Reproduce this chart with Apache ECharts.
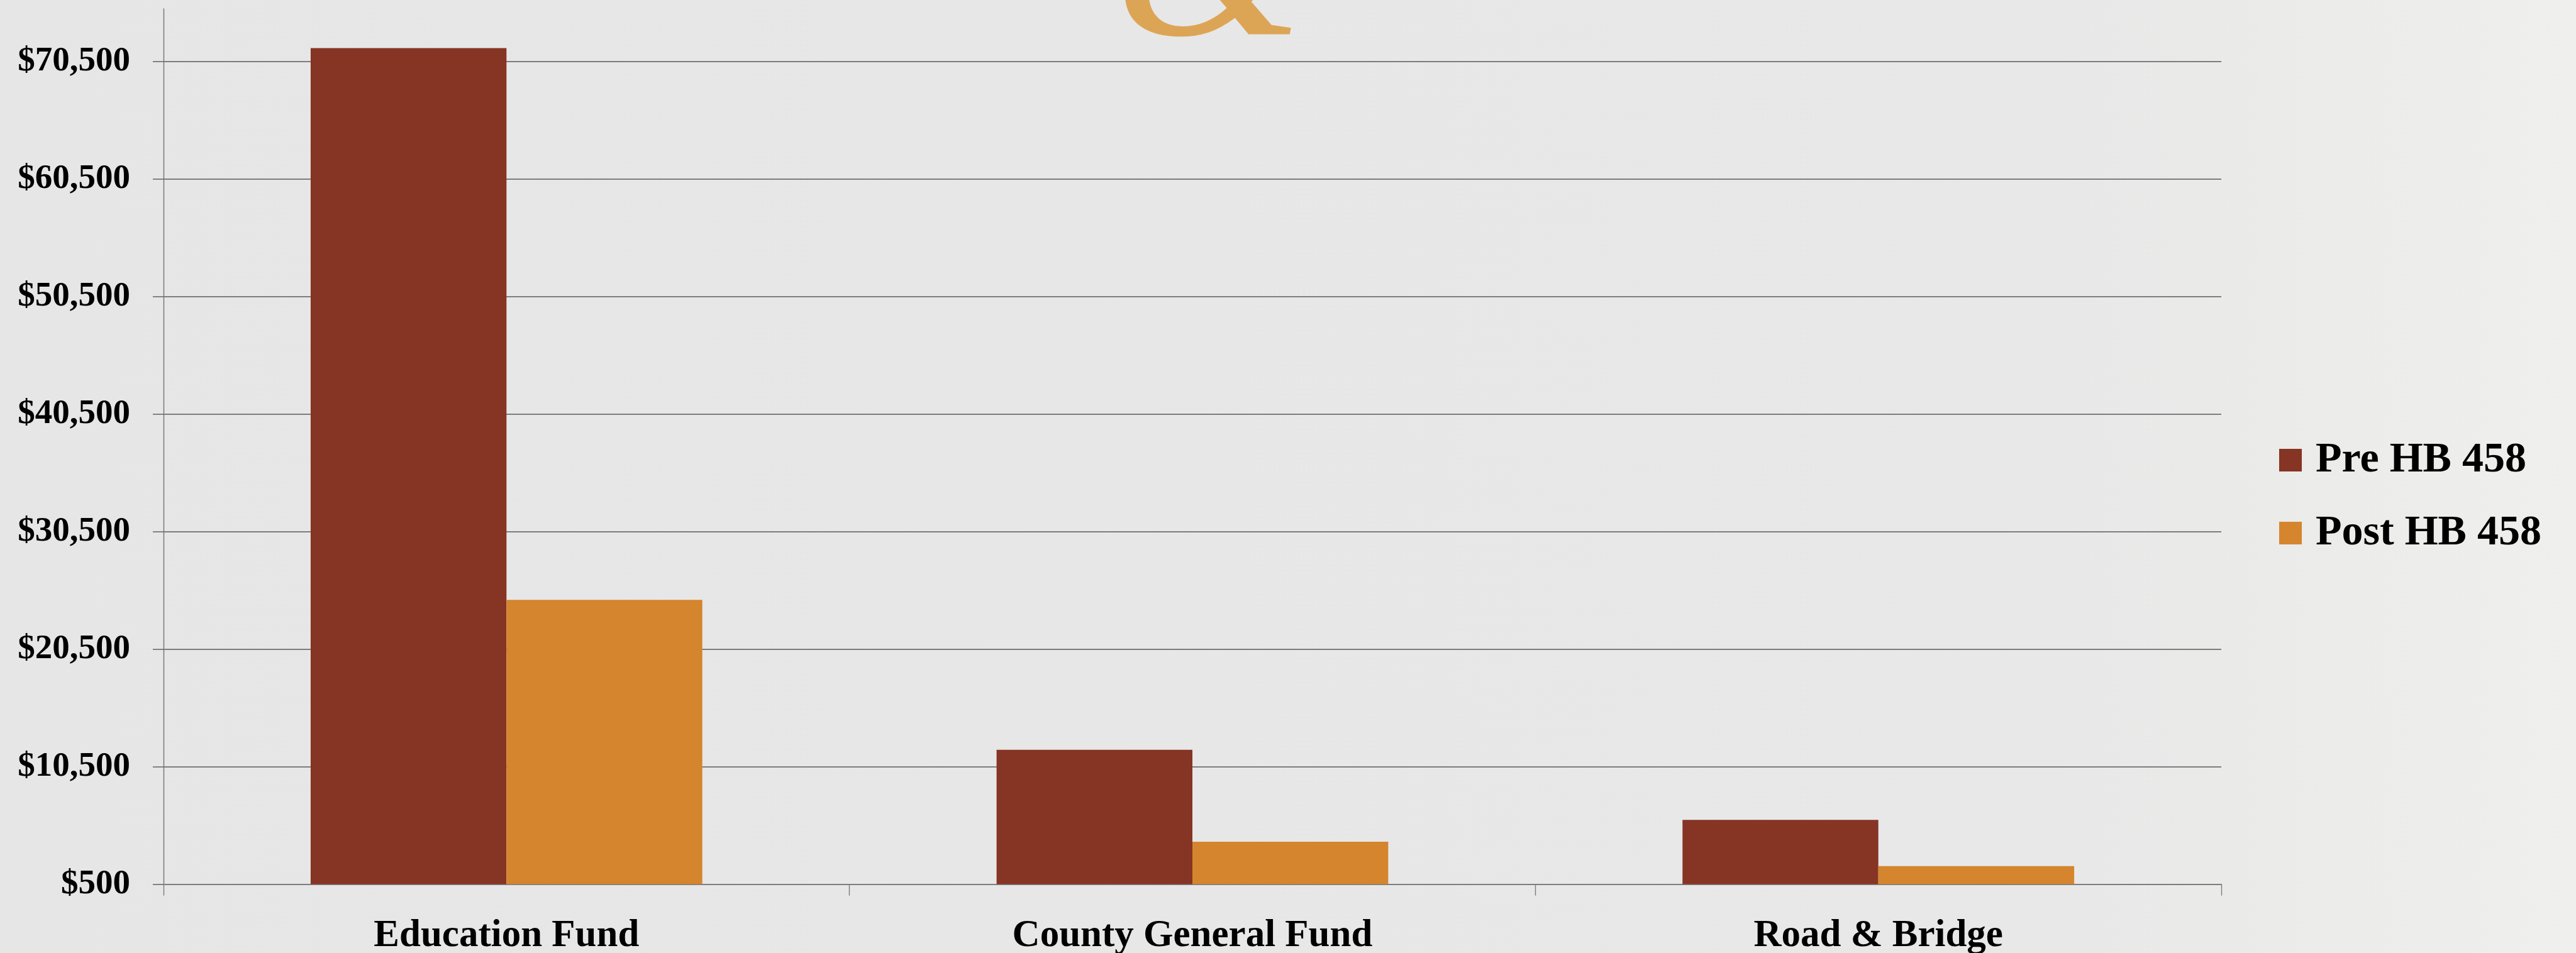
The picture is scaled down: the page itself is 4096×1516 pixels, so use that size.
<!DOCTYPE html>
<html><head><meta charset="utf-8">
<script src="https://cdn.jsdelivr.net/npm/echarts@6/dist/echarts.min.js"></script>
<style>html,body{margin:0;padding:0;background:#e7e7e7}#c{width:4096px;height:1516px}</style>
</head><body><div id="c"></div>
<script>
const categories = ['Education Fund', 'County General Fund', 'Road & Bridge'];
const seriesNames = ['Pre HB 458', 'Post HB 458'];
const preHB458 = [71660, 11940, 5970];
const postHB458 = [24700, 4120, 2040];
const yTickValues = [500, 10500, 20500, 30500, 40500, 50500, 60500, 70500];

const FONT = '"Liberation Serif", "Times New Roman", serif';
const chart = echarts.init(document.getElementById('c'), null, {renderer: 'canvas'});
const fmt = v => '$' + Math.round(v).toLocaleString('en-US');

chart.setOption({
  backgroundColor: 'transparent',
  animation: false,
  graphic: [
    {type: 'rect', z: -10, silent: true, shape: {x: 0, y: 0, width: 4096, height: 1516},
     style: {fill: {type: 'linear', x: 0, y: 0, x2: 1, y2: 0, colorStops: [
       {offset: 0, color: '#e6e6e6'}, {offset: 0.8, color: '#e8e8e8'}, {offset: 1, color: '#efefed'}]}}},
    {type: 'text', z: -5, silent: true,
     style: {text: '&', x: 1924, y: -48, font: 'italic 390px "Liberation Serif", serif',
             fill: '#DCA555', align: 'center', verticalAlign: 'middle'}}
  ],
  legend: {
    orient: 'vertical', left: 3619, top: 693,
    itemWidth: 36, itemHeight: 36, itemGap: 48,
    icon: 'rect',
    formatter: n => ' ' + n,
    textStyle: {fontFamily: FONT, fontWeight: 'bold', fontSize: 68, color: '#000'},
    data: seriesNames
  },
  grid: {left: 260, right: 564, top: 14, bottom: 109.4, containLabel: false, outerBoundsMode: 'none'},
  xAxis: {
    type: 'category', data: categories,
    axisLine: {show: true, lineStyle: {color: '#7d7d7d', width: 2}},
    axisTick: {show: true, length: 18, lineStyle: {color: '#7d7d7d', width: 1.4}},
    axisLabel: {fontFamily: FONT, fontWeight: 'bold', fontSize: 61, color: '#000', margin: 52, interval: 0}
  },
  yAxis: {
    type: 'value', min: 500, max: 75000, interval: 10000,
    axisLine: {show: true, lineStyle: {color: '#727272', width: 1.4}},
    axisTick: {show: true, length: 17, customValues: yTickValues, lineStyle: {color: '#7d7d7d', width: 1.9}},
    axisLabel: {fontFamily: FONT, fontWeight: 'bold', fontSize: 55, color: '#000', margin: 53,
                customValues: yTickValues, formatter: fmt},
    splitLine: {show: true, lineStyle: {color: '#7d7d7d', width: 1.9}}
  },
  series: [
    {name: seriesNames[0], type: 'bar', data: preHB458, barGap: '0%', barCategoryGap: '42.9%',
     itemStyle: {color: '#863424'}},
    {name: seriesNames[1], type: 'bar', data: postHB458, barGap: '0%', barCategoryGap: '42.9%',
     itemStyle: {color: '#D5852E'}}
  ]
});
</script></body></html>
